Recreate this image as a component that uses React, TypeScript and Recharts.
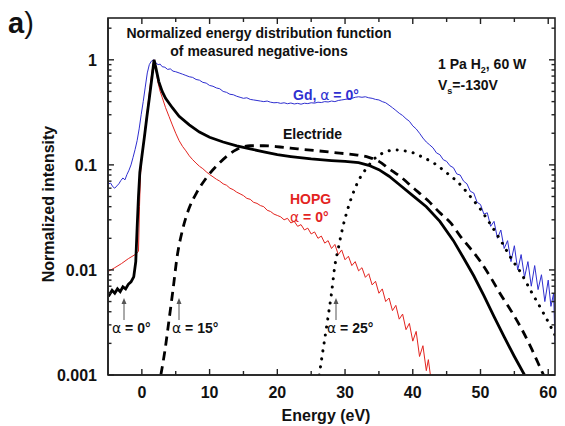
import React from 'react';
import { LineChart, Line, XAxis, YAxis } from 'recharts';

const FONT = '"Liberation Sans", Arial, Helvetica, sans-serif';
const BLUE = '#2f2fd0';
const RED = '#e3241f';

// ---------- data (energy eV, normalized intensity) ----------
const electrideA0: [number, number][] = [
  [-5.2, 0.0062], [-4.8, 0.0058], [-4.4, 0.0064], [-4.0, 0.006], [-3.6, 0.0066], [-3.2, 0.0062],
  [-2.8, 0.0069], [-2.4, 0.0066], [-2.0, 0.0073], [-1.6, 0.0077], [-1.2, 0.0086], [-0.9, 0.012],
  [-0.7, 0.025], [-0.5, 0.05], [-0.3, 0.085], [0, 0.12], [0.4, 0.19], [0.75, 0.29], [1.1, 0.43],
  [1.5, 0.69], [1.8, 1.0], [2.1, 0.82], [2.5, 0.62], [3, 0.5], [3.5, 0.43], [4.5, 0.35], [5.5, 0.29],
  [7, 0.24], [8.5, 0.205], [10, 0.183], [12, 0.165], [14, 0.152], [16, 0.142], [18, 0.133],
  [20, 0.125], [22, 0.12], [25, 0.114], [28, 0.11], [30, 0.108], [32, 0.105], [33.5, 0.099],
  [35, 0.09], [36.5, 0.078], [38, 0.065], [40, 0.051], [42, 0.04], [44, 0.029], [46, 0.019],
  [47.5, 0.013], [49, 0.0088], [50.5, 0.0057], [52, 0.0036], [53.5, 0.0023], [55, 0.0015], [56.5, 0.001],
];

const electrideA15: [number, number][] = [
  [2.8, 0.001], [3.4, 0.0017], [4, 0.0033], [4.6, 0.0065], [5.2, 0.0133], [6, 0.024], [7, 0.039],
  [8, 0.053], [9.5, 0.075], [11.5, 0.105], [14, 0.14], [16, 0.152], [18, 0.152], [20.4, 0.148], [23, 0.142],
  [26, 0.136], [28.8, 0.13], [31.8, 0.124], [33.5, 0.118], [35, 0.108], [36.5, 0.092], [38.2, 0.077],
  [40, 0.061], [42.2, 0.046], [44, 0.035], [45.6, 0.028], [47, 0.021], [48.5, 0.016], [50, 0.012],
  [51.5, 0.0085], [53, 0.0058], [54.5, 0.0041], [56, 0.0028], [57.5, 0.0018], [58.5, 0.0013], [59.3, 0.001],
];

const electrideA25: [number, number][] = [
  [26.2, 0.001], [26.6, 0.0015], [27, 0.0022], [27.5, 0.0036], [28, 0.006], [28.5, 0.011], [29, 0.016],
  [29.7, 0.026], [30.4, 0.038], [31.2, 0.054], [32.2, 0.075], [33.3, 0.095], [34.2, 0.112], [35.2, 0.126],
  [36.2, 0.134], [37.1, 0.139], [38.5, 0.137], [40.1, 0.13], [41.5, 0.118], [43.1, 0.104], [45, 0.084],
  [46.7, 0.068], [48.5, 0.05], [50.1, 0.037], [51.5, 0.027], [53, 0.019], [54.5, 0.013], [56, 0.0093],
  [57.5, 0.0062], [59, 0.0042], [60, 0.0032], [61, 0.0024],
];

const gdA0: [number, number][] = [
  [-5.2, 0.072], [-4.9, 0.066], [-4.6, 0.067], [-4.3, 0.062], [-4.0, 0.06], [-3.7, 0.063], [-3.4, 0.066],
  [-3.1, 0.071], [-2.8, 0.075], [-2.5, 0.072], [-2.2, 0.081], [-1.9, 0.089], [-1.6, 0.1], [-1.3, 0.118],
  [-1.0, 0.14], [-0.7, 0.17], [-0.4, 0.22], [-0.1, 0.3], [0.2, 0.4], [0.5, 0.55], [0.8, 0.75], [1.1, 0.9],
  [1.4, 0.97], [1.8, 1.0], [2.1, 0.93], [2.4, 0.9], [2.7, 0.91], [3.0, 0.86], [3.4, 0.85], [3.8, 0.81],
  [4.2, 0.82], [4.6, 0.78], [5.0, 0.77], [5.5, 0.75], [6.0, 0.73], [6.5, 0.71], [7.0, 0.69], [7.5, 0.68],
  [8.0, 0.65], [8.5, 0.64], [9.0, 0.61], [9.5, 0.6], [10, 0.57], [10.5, 0.56], [11, 0.54], [11.5, 0.53],
  [12, 0.5], [12.5, 0.49], [13, 0.47], [13.5, 0.465], [14, 0.45], [14.5, 0.44], [15, 0.43], [15.5, 0.435],
  [16, 0.42], [16.5, 0.415], [17, 0.41], [17.5, 0.405], [18, 0.4], [18.5, 0.405], [19, 0.395], [19.5, 0.39],
  [20, 0.392], [20.5, 0.385], [21, 0.39], [21.5, 0.382], [22, 0.388], [22.5, 0.38], [23, 0.385], [23.5, 0.378],
  [24, 0.386], [24.5, 0.383], [25, 0.39], [25.5, 0.387], [26, 0.395], [26.5, 0.392], [27, 0.4], [27.5, 0.397],
  [28, 0.405], [28.5, 0.4], [29, 0.41], [29.5, 0.415], [30, 0.42], [30.5, 0.425], [31, 0.43], [31.5, 0.44],
  [32, 0.445], [32.5, 0.44], [33, 0.445], [33.5, 0.435], [34, 0.43], [34.5, 0.42], [35, 0.415], [35.5, 0.4],
  [36, 0.39], [36.5, 0.37], [37, 0.35], [37.5, 0.33], [38, 0.31], [38.5, 0.295], [39, 0.275], [39.5, 0.26],
  [40, 0.235], [40.5, 0.22], [41, 0.2], [41.5, 0.18], [42, 0.165], [42.5, 0.155], [43, 0.145], [43.5, 0.13],
  [44, 0.125], [44.5, 0.112], [45, 0.108], [45.5, 0.098], [46, 0.094], [46.5, 0.082], [47, 0.08], [47.5, 0.07],
  [48, 0.066], [48.5, 0.056], [49, 0.054], [49.5, 0.044], [50, 0.042], [50.5, 0.034], [51, 0.035], [51.5, 0.026],
  [52, 0.029], [52.5, 0.02], [53, 0.024], [53.5, 0.016], [54, 0.019], [54.5, 0.012], [55, 0.017], [55.5, 0.01],
  [56, 0.014], [56.5, 0.0085], [57, 0.012], [57.5, 0.007], [58, 0.011], [58.5, 0.0065], [59, 0.009], [59.5, 0.005],
  [60, 0.008], [60.4, 0.0045], [60.8, 0.006], [61, 0.002],
];

const hopgA0: [number, number][] = [
  [-5.2, 0.0095], [-4, 0.0105], [-3, 0.0115], [-2, 0.0128], [-1, 0.014], [-0.5, 0.015], [-0.35, 0.04],
  [-0.2, 0.08], [0, 0.12], [0.4, 0.2], [0.8, 0.33], [1.2, 0.55], [1.5, 0.78], [1.8, 1.0], [2.1, 0.78],
  [2.4, 0.6], [2.7, 0.5], [3, 0.44], [3.5, 0.35], [4, 0.29], [4.5, 0.24], [5, 0.2], [5.5, 0.17], [6, 0.15],
  [6.5, 0.136], [7, 0.122], [7.5, 0.112], [8, 0.104], [8.5, 0.097], [9, 0.092], [9.5, 0.086], [10, 0.081],
  [10.5, 0.077], [11, 0.073], [11.5, 0.07], [12, 0.066], [12.5, 0.064], [13, 0.06], [13.5, 0.058], [14, 0.055],
  [14.5, 0.053], [15, 0.051], [15.5, 0.048], [16, 0.047], [16.5, 0.044], [17, 0.043], [17.5, 0.041], [18, 0.04],
  [18.5, 0.037], [19, 0.036], [19.5, 0.034], [20, 0.033], [20.5, 0.032], [21, 0.03], [21.5, 0.031], [22, 0.028],
  [22.5, 0.029], [23, 0.026], [23.5, 0.027], [24, 0.024], [24.5, 0.025], [25, 0.022], [25.5, 0.023], [26, 0.02],
  [26.5, 0.021], [27, 0.018], [27.5, 0.019], [28, 0.016], [28.5, 0.0175], [29, 0.014], [29.5, 0.0155], [30, 0.0125],
  [30.5, 0.0135], [31, 0.011], [31.5, 0.012], [32, 0.0098], [32.5, 0.0105], [33, 0.0085], [33.5, 0.0092], [34, 0.0072],
  [34.5, 0.0078], [35, 0.006], [35.5, 0.0066], [36, 0.005], [36.5, 0.0054], [37, 0.0041], [37.5, 0.0046], [38, 0.0034],
  [38.5, 0.0038], [39, 0.0027], [39.5, 0.0031], [40, 0.0021], [40.5, 0.0026], [41, 0.0015], [41.5, 0.0019],
  [42, 0.0011], [42.3, 0.0014], [42.6, 0.001],
];

// ---------- axes ----------
const xDomain: [number, number] = [-5, 61];
const yDomain: [number, number] = [0.001, 2.5];
const xTickValues = [0, 5, 10, 15, 20, 25, 30, 35, 40, 45, 50, 55, 60];
const xTickLabels = [0, 10, 20, 30, 40, 50, 60];
const yTickValues = [
  0.001, 0.002, 0.003, 0.004, 0.005, 0.006, 0.007, 0.008, 0.009,
  0.01, 0.02, 0.03, 0.04, 0.05, 0.06, 0.07, 0.08, 0.09,
  0.1, 0.2, 0.3, 0.4, 0.5, 0.6, 0.7, 0.8, 0.9,
  1, 2,
];
const yTickLabels = [0.001, 0.01, 0.1, 1];

// plot box in page pixels (chart wrapper sits at the 8px body margin)
const BOX = { left: 108, right: 555, top: 18, bottom: 375 };

const toPts = (arr: [number, number][]) => arr.map(([x, y]) => ({ x, y }));
const isMajorX = (v: number) => xTickLabels.includes(v);
const isMajorY = (v: number) => yTickLabels.some((t) => Math.abs(t - v) < 1e-9);
const sx = (v: number) => BOX.left + ((v - xDomain[0]) / (xDomain[1] - xDomain[0])) * (BOX.right - BOX.left);
const sy = (v: number) =>
  BOX.top +
  ((Math.log10(yDomain[1]) - Math.log10(v)) / (Math.log10(yDomain[1]) - Math.log10(yDomain[0]))) *
    (BOX.bottom - BOX.top);

const BottomTick = (p: any) => {
  const { x, y, payload } = p;
  if (!isMajorX(payload.value)) return <g />;
  return (
    <text x={x} y={y + 23} textAnchor="middle" fontFamily={FONT} fontWeight="bold" fontSize={16} fill="#111">
      {payload.value}
    </text>
  );
};
const LeftTick = (p: any) => {
  const { x, y, payload } = p;
  if (!isMajorY(payload.value)) return <g />;
  return (
    <text x={x - 11} y={y + 6} textAnchor="end" fontFamily={FONT} fontWeight="bold" fontSize={16} fill="#111">
      {String(payload.value)}
    </text>
  );
};

const Arrow = ({ x, y1, y2 }: { x: number; y1: number; y2: number }) => (
  <g>
    <line x1={x} x2={x} y1={y1} y2={y2 + 5} stroke="#555" strokeWidth={1} />
    <path d={`M${x - 2.5},${y2 + 6} L${x},${y2} L${x + 2.5},${y2 + 6} Z`} fill="#555" />
  </g>
);

const AlphaLabel = ({ x, y, text, fill = '#111' }: { x: number; y: number; text: string; fill?: string }) => (
  <text x={x} y={y} fontFamily={FONT} fontSize={14} fill={fill}>
    <tspan fontFamily={'"DejaVu Sans", sans-serif'} fontSize={14}>α</tspan>
    <tspan fontWeight="bold">{text}</tspan>
  </text>
);

const Frame = () => (
  <g>
    <rect
      x={BOX.left}
      y={BOX.top}
      width={BOX.right - BOX.left}
      height={BOX.bottom - BOX.top}
      fill="none"
      stroke="#222"
      strokeWidth={1.6}
    />
    {xTickValues.map((v) => {
      const len = isMajorX(v) ? 6 : 4;
      const x = sx(v);
      return (
        <g key={`x${v}`}>
          <line x1={x} x2={x} y1={BOX.bottom} y2={BOX.bottom - len} stroke="#222" strokeWidth={1.4} />
          <line x1={x} x2={x} y1={BOX.top} y2={BOX.top + len} stroke="#222" strokeWidth={1.4} />
        </g>
      );
    })}
    {yTickValues.map((v) => {
      const len = isMajorY(v) ? 6 : 3.5;
      const y = sy(v);
      return (
        <g key={`y${v}`}>
          <line x1={BOX.left} x2={BOX.left + len} y1={y} y2={y} stroke="#222" strokeWidth={1.4} />
          <line x1={BOX.right} x2={BOX.right - len} y1={y} y2={y} stroke="#222" strokeWidth={1.4} />
        </g>
      );
    })}
  </g>
);

export default function App() {
  const W = 557;
  const H = 418;
  return (
    <div style={{ position: 'relative', width: W, height: H }}>
      <LineChart width={W} height={H} margin={{ top: 10, right: 10, bottom: 0, left: 0 }}>
        <XAxis
          type="number"
          dataKey="x"
          domain={xDomain}
          allowDataOverflow
          ticks={xTickValues}
          interval={0}
          height={51}
          tickSize={0}
          tickMargin={0}
          tickLine={false}
          axisLine={{ stroke: '#222', strokeWidth: 1.6 }}
          tick={<BottomTick />}
        />
        <YAxis
          type="number"
          scale="log"
          domain={yDomain}
          allowDataOverflow
          ticks={yTickValues}
          interval={0}
          width={100}
          tickSize={0}
          tickMargin={0}
          tickLine={false}
          axisLine={{ stroke: '#222', strokeWidth: 1.6 }}
          tick={<LeftTick />}
        />
        <Line data={toPts(hopgA0)} dataKey="y" type="linear" stroke={RED} strokeWidth={1} dot={false} isAnimationActive={false} />
        <Line data={toPts(gdA0)} dataKey="y" type="linear" stroke={BLUE} strokeWidth={1} dot={false} isAnimationActive={false} />
        <Line data={toPts(electrideA25)} dataKey="y" type="monotone" stroke="#000" strokeWidth={3} strokeDasharray="0.1 8" strokeLinecap="round" dot={false} isAnimationActive={false} />
        <Line data={toPts(electrideA15)} dataKey="y" type="monotone" stroke="#000" strokeWidth={2.8} strokeDasharray="9 6" dot={false} isAnimationActive={false} />
        <Line data={toPts(electrideA0)} dataKey="y" type="linear" stroke="#000" strokeWidth={2.8} dot={false} isAnimationActive={false} />
      </LineChart>
      <svg width={565} height={426} style={{ position: 'absolute', left: -8, top: -8, pointerEvents: 'none', overflow: 'visible' }}>
        <Frame />
        <text x={8} y={33} fontFamily={FONT} fontSize={29} fill="#111">
          <tspan fontWeight="bold">a</tspan>
          <tspan>)</tspan>
        </text>
        <text x={259} y={38} textAnchor="middle" fontFamily={FONT} fontWeight="bold" fontSize={14} fill="#111">
          Normalized energy distribution function
        </text>
        <text x={259} y={56} textAnchor="middle" fontFamily={FONT} fontWeight="bold" fontSize={14} fill="#111">
          of measured negative-ions
        </text>
        <text x={438} y={69} fontFamily={FONT} fontWeight="bold" fontSize={14} fill="#111">
          1 Pa H<tspan fontSize={9} dy={4}>2</tspan><tspan dy={-4}>, 60 W</tspan>
        </text>
        <text x={438} y={90} fontFamily={FONT} fontWeight="bold" fontSize={14} fill="#111">
          V<tspan fontSize={9} dy={4}>s</tspan><tspan dy={-4}>=-130V</tspan>
        </text>
        <text x={293} y={100} fontFamily={FONT} fontWeight="bold" fontSize={14} fill={BLUE}>
          Gd, <tspan fontWeight="normal" fontFamily={'"DejaVu Sans", sans-serif'}>α</tspan> = 0°
        </text>
        <text x={283} y={139} fontFamily={FONT} fontWeight="bold" fontSize={14} fill="#111">
          Electride
        </text>
        <text x={290} y={204} fontFamily={FONT} fontWeight="bold" fontSize={14} fill={RED}>
          HOPG
        </text>
        <AlphaLabel x={290} y={222} text=" = 0°" fill={RED} />
        <Arrow x={124} y1={320} y2={298} />
        <AlphaLabel x={112} y={333} text=" = 0°" />
        <Arrow x={179} y1={320} y2={298} />
        <AlphaLabel x={172} y={333} text=" = 15°" />
        <Arrow x={336} y1={320} y2={298} />
        <AlphaLabel x={327} y={333} text=" = 25°" />
        <text
          x={48}
          y={204}
          transform="rotate(-90 48 204)"
          textAnchor="middle"
          fontFamily={FONT}
          fontWeight="bold"
          fontSize={16}
          fill="#111"
          dominantBaseline="central"
        >
          Normalized intensity
        </text>
        <text x={326} y={421} textAnchor="middle" fontFamily={FONT} fontWeight="bold" fontSize={16} fill="#111">
          Energy (eV)
        </text>
      </svg>
    </div>
  );
}
